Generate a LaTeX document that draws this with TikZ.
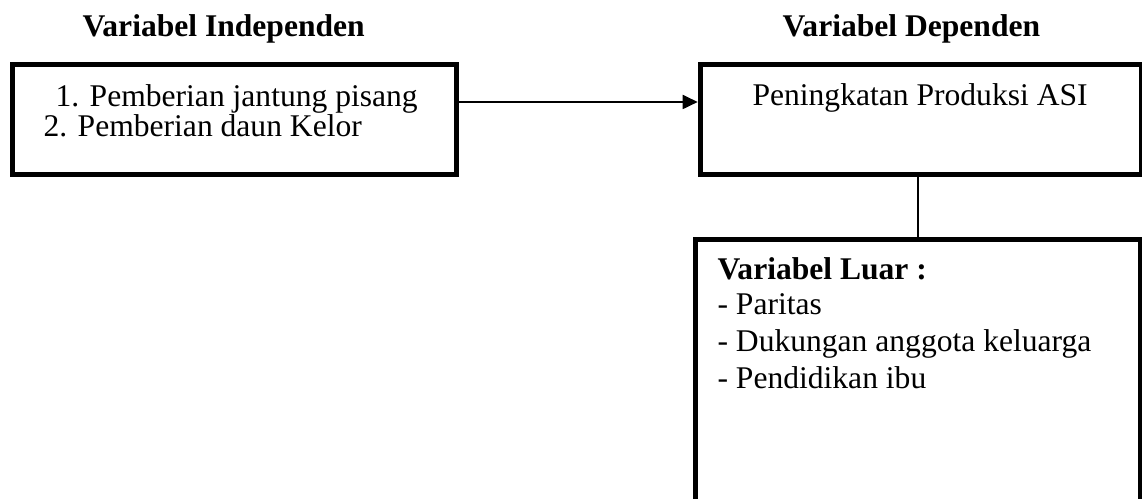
\documentclass[tikz,border=0pt]{standalone}
\usepackage{fontspec}
\setmainfont{Liberation Serif}
\usetikzlibrary{arrows.meta}

\tikzset{
	varbox/.style={shape=rectangle,draw=black,line width=1.9pt,inner sep=0pt},
	txt/.style={inner sep=0pt,anchor=base west,font=\fontsize{12pt}{14pt}\selectfont},
	head/.style={txt,font=\fontsize{12pt}{14pt}\selectfont\bfseries},
	link/.style={draw=black,line width=0.75pt}
}

\begin{document}
\begin{tikzpicture}[x=0.38pt,y=-0.38pt]
	
	\clip (0,0) rectangle (1142,499);
	
	\node[head] (hind) at (82, 37)   {Variabel Independen};
	\node[head] (hdep) at (782, 37)  {Variabel Dependen};
	
	\node[varbox,minimum width=168.7pt,minimum height=41.8pt] (indep) at (234.5, 120) {};
	\node[varbox,minimum width=167.8pt,minimum height=41.8pt] (dep)   at (921, 119.5)  {};
	\node[varbox,minimum width=169.1pt,minimum height=122pt]  (luar)  at (917.5, 400)  {};
	
	\node[txt] (x1) at (55, 107)  {1. Pemberian jantung pisang};
	\node[txt] (x2) at (43, 137)  {2. Pemberian daun Kelor};
	\node[txt] (y)  at (752, 106) {Peningkatan Produksi ASI};
	
	\node[head] (z)  at (717, 280) {Variabel Luar :};
	\node[txt]  (z1) at (717, 315) {- Paritas};
	\node[txt]  (z2) at (717, 352) {- Dukungan anggota keluarga};
	\node[txt]  (z3) at (717, 389) {- Pendidikan ibu};
	
	\coordinate (row) at (0, 102);
	\draw[link,-{Triangle[length=5.7pt,width=5.3pt]}] (indep.east |- row) -- (dep.west |- row);
	\draw[link] (luar.north |- dep.south) -- (luar.north);
	
\end{tikzpicture}
\end{document}
